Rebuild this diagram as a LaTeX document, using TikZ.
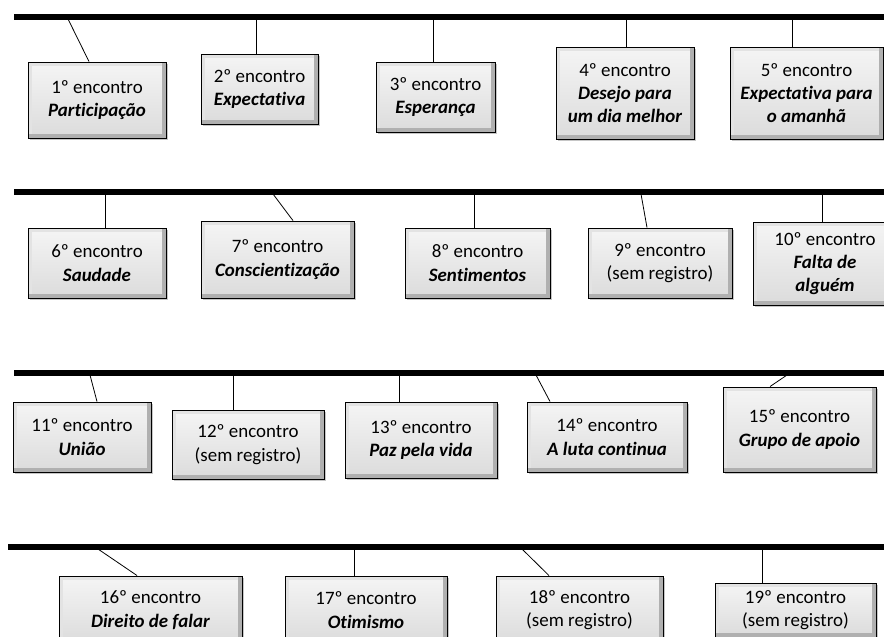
\documentclass[tikz,border=0pt]{standalone}
\usepackage{fontspec}
\setmainfont{Carlito}[Ligatures=NoCommon]
\usepackage{tikz}
\usetikzlibrary{shadows}
\tikzstyle{encontro} = [rectangle,
draw=black,
line width=0.7pt,
top color=gray!8,
bottom color=gray!28,
align=center,
inner sep=0pt,
font=\fontsize{14.2}{17.5}\selectfont,
drop shadow={shadow xshift=1.8pt, shadow yshift=-1.8pt, opacity=0.45},
path picture={
\draw[gray!22, line width=6pt] (path picture bounding box.south west) -- (path picture bounding box.north west) -- (path picture bounding box.north east);
\draw[gray!62, line width=6pt] (path picture bounding box.north east) -- (path picture bounding box.south east) -- (path picture bounding box.south west);
}]
\tikzstyle{linha} = [line width=3.8pt, black]
\tikzstyle{haste} = [line width=0.6pt, black]
\newcommand{\tema}[1]{\textbf{\textit{#1}}}

\begin{document}
\begin{tikzpicture}[x=0.75pt, y=-0.75pt]
\useasboundingbox (0,0) rectangle (884,636);
\clip (0,0) rectangle (884,636);

% Linhas do tempo
\coordinate (l1a) at (14,17);  \coordinate (l1b) at (890,17);
\coordinate (l2a) at (14,192); \coordinate (l2b) at (890,192);
\coordinate (l3a) at (14,373); \coordinate (l3b) at (890,373);
\coordinate (l4a) at (8,547);  \coordinate (l4b) at (890,547);

% Pontos de partida das hastes
\coordinate (t1) at (68,19);   \coordinate (t2) at (256,19);  \coordinate (t3) at (433,19);
\coordinate (t4) at (626,19);  \coordinate (t5) at (792,19);
\coordinate (t6) at (105,194); \coordinate (t7) at (273,194); \coordinate (t8) at (474,194);
\coordinate (t9) at (641,194); \coordinate (t10) at (822,194);
\coordinate (t11) at (90,375); \coordinate (t12) at (233,375); \coordinate (t13) at (399,375);
\coordinate (t14) at (536,375); \coordinate (t15) at (787,375);
\coordinate (t16) at (98,549); \coordinate (t17) at (354,549); \coordinate (t18) at (522,549);
\coordinate (t19) at (762,549);

% Nodes
\node (e1) [encontro, minimum width=103.5pt, minimum height=57pt] at (97,100) {1º encontro\\\tema{Participação}};
\node (e2) [encontro, minimum width=87.75pt, minimum height=52.5pt] at (259.5,89) {2º encontro\\\tema{Expectativa}};
\node (e3) [encontro, minimum width=89.25pt, minimum height=52.5pt] at (435.5,97) {3º encontro\\\tema{Esperança}};
\node (e4) [encontro, minimum width=103.5pt, minimum height=69pt] at (625,93) {4º encontro\\\tema{Desejo para}\\\tema{um dia melhor}};
\node (e5) [encontro, minimum width=114.75pt, minimum height=69pt] at (806.5,93) {5º encontro\\\tema{Expectativa para}\\\tema{o amanhã}};

\node (e6) [encontro, minimum width=103.5pt, minimum height=52.5pt] at (97,263) {6º encontro\\\tema{Saudade}};
\node (e7) [encontro, minimum width=114.75pt, minimum height=57.75pt] at (277.5,259.5) {7º encontro\\\tema{Conscientização}};
\node (e8) [encontro, minimum width=108.75pt, minimum height=52.5pt] at (477.5,263) {8º encontro\\\tema{Sentimentos}};
\node (e9) [encontro, minimum width=108pt, minimum height=52.5pt] at (660,263) {9º encontro\\(sem registro)};
\node (e10) [encontro, minimum width=108pt, minimum height=62.25pt] at (825,263.5) {10º encontro\\\tema{Falta de}\\\tema{alguém}};

\node (e11) [encontro, minimum width=103.5pt, minimum height=52.5pt] at (82,437) {11º encontro\\\tema{União}};
\node (e12) [encontro, minimum width=114pt, minimum height=51.75pt] at (248,444.5) {12º encontro\\(sem registro)};
\node (e13) [encontro, minimum width=114pt, minimum height=57pt] at (421,440) {13º encontro\\\tema{Paz pela vida}};
\node (e14) [encontro, minimum width=120pt, minimum height=52.5pt] at (607,437) {14º encontro\\\tema{A luta continua}};
\node (e15) [encontro, minimum width=114.75pt, minimum height=63.75pt] at (799.5,429.5) {15º encontro\\\tema{Grupo de apoio}};

\node (e16) [encontro, minimum width=137.25pt, minimum height=51pt] at (150.5,610) {16º encontro\\\tema{Direito de falar}};
\node (e17) [encontro, minimum width=121.5pt, minimum height=51pt] at (366,610) {17º encontro\\\tema{Otimismo}};
\node (e18) [encontro, minimum width=125.25pt, minimum height=51pt] at (579.5,610) {18º encontro\\(sem registro)};
\node (e19) [encontro, minimum width=120.75pt, minimum height=40.5pt] at (795.5,610) {19º encontro\\(sem registro)};

% Hastes
\draw [haste] (t1) -- ([xshift=-6pt]e1.north);
\draw [haste] (t2) -- (t2 |- e2.north);
\draw [haste] (t3) -- (t3 |- e3.north);
\draw [haste] (t4) -- (t4 |- e4.north);
\draw [haste] (t5) -- (t5 |- e5.north);
\draw [haste] (t6) -- (t6 |- e6.north);
\draw [haste] (t7) -- ([xshift=11.6pt]e7.north);
\draw [haste] (t8) -- (t8 |- e8.north);
\draw [haste] (t9) -- ([xshift=-9.75pt]e9.north);
\draw [haste] (t10) -- (t10 |- e10.north);
\draw [haste] (t11) -- ([xshift=11.25pt]e11.north);
\draw [haste] (t12) -- (t12 |- e12.north);
\draw [haste] (t13) -- (t13 |- e13.north);
\draw [haste] (t14) -- ([xshift=-42.75pt]e14.north);
\draw [haste] (t15) -- ([xshift=-22.1pt]e15.north);
\draw [haste] (t16) -- ([xshift=-10.1pt]e16.north);
\draw [haste] (t17) -- (t17 |- e17.north);
\draw [haste] (t18) -- ([xshift=-22.9pt]e18.north);
\draw [haste] (t19) -- (t19 |- e19.north);

\draw [linha] (l1a) -- (l1b);
\draw [linha] (l2a) -- (l2b);
\draw [linha] (l3a) -- (l3b);
\draw [linha] (l4a) -- (l4b);

\end{tikzpicture}
\end{document}
